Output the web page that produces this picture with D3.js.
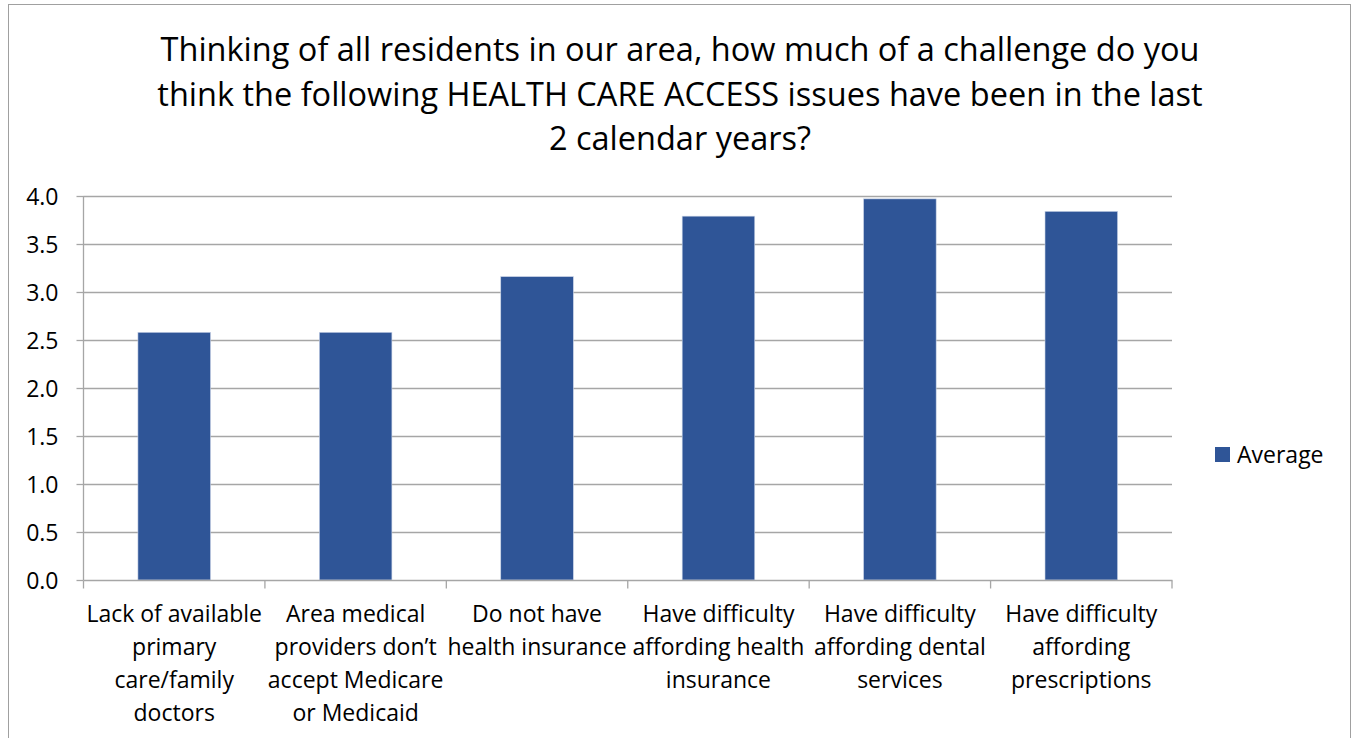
<!DOCTYPE html>
<html><head><meta charset="utf-8">
<script src="https://cdn.jsdelivr.net/npm/d3@7"></script>
<style>
body{margin:0;background:#fff;}
svg text{font-family:"Open Sans", Lato, sans-serif;fill:#000;}
</style></head>
<body>
<svg id="c" width="1353" height="738"></svg>
<script>
const categories = [
  ["Lack of available","primary","care/family","doctors"],
  ["Area medical","providers don\u2019t","accept Medicare","or Medicaid"],
  ["Do not have","health insurance"],
  ["Have difficulty","affording health","insurance"],
  ["Have difficulty","affording dental","services"],
  ["Have difficulty","affording","prescriptions"]
];
const seriesName = "Average";
const values = [2.58, 2.58, 3.16, 3.79, 3.97, 3.84];
const yTicks = [0,0.5,1,1.5,2,2.5,3,3.5,4];
const titleLines = [
  "Thinking of all residents in our area, how much of a challenge do you",
  "think the following HEALTH CARE ACCESS issues have been in the last",
  "2 calendar years?"
];

const svg = d3.select("#c");
// chart border
svg.append("rect").attr("x",8.5).attr("y",4.5).attr("width",1342).attr("height",760)
  .attr("fill","none").attr("stroke","#a0a0a0").attr("stroke-width",1);

const m={left:83.5,right:1172,top:196,bottom:580};
const x=d3.scaleBand().domain(d3.range(categories.length)).range([m.left,m.right]).paddingInner(0.6).paddingOuter(0.3);
const xb=d3.scaleBand().domain(d3.range(categories.length)).range([m.left,m.right]);
const y=d3.scaleLinear().domain([0,4]).range([m.bottom,m.top]);

// gridlines
svg.append("g").selectAll("line").data(yTicks.filter(d=>d>0)).join("line")
  .attr("x1",m.left).attr("x2",m.right).attr("y1",d=>Math.round(y(d))+0.5).attr("y2",d=>Math.round(y(d))+0.5)
  .attr("stroke","#a6a6a6").attr("stroke-width",1.3);

// bars
svg.append("g").selectAll("rect").data(values).join("rect")
  .attr("x",(d,i)=>x(i)).attr("width",x.bandwidth())
  .attr("y",d=>y(d)).attr("height",d=>y(0)-y(d))
  .attr("fill","#2F5597").attr("stroke","#c9d3e6").attr("stroke-width",0.6);

// y axis
const ya=svg.append("g").attr("transform",`translate(${m.left},0)`)
  .call(d3.axisLeft(y).tickValues(yTicks).tickFormat(d3.format(".1f")).tickSize(7).tickPadding(18));
ya.select(".domain").attr("stroke","#a6a6a6").attr("stroke-width",1.3).attr("d",`M0,${m.top}V${m.bottom}`);
ya.selectAll(".tick line").attr("stroke","#a6a6a6").attr("stroke-width",1.3);
ya.selectAll(".tick text").attr("font-size",23).attr("font-family","'Open Sans', sans-serif").attr("fill","#000").attr("dy","0.35em");

// x axis
const xa=svg.append("g").attr("transform",`translate(0,${m.bottom+0.5})`);
xa.append("line").attr("x1",m.left).attr("x2",m.right+0.5).attr("stroke","#a6a6a6").attr("stroke-width",1.3);
xa.selectAll("line.t").data(d3.range(categories.length+1)).join("line").attr("class","t")
  .attr("x1",i=>i<categories.length?xb(i):m.right).attr("x2",i=>i<categories.length?xb(i):m.right)
  .attr("y1",0).attr("y2",8).attr("stroke","#a6a6a6").attr("stroke-width",1.3);
const lab=svg.append("g").selectAll("text").data(categories).join("text")
  .attr("text-anchor","middle").attr("font-size",23)
  .attr("x",(d,i)=>xb(i)+xb.bandwidth()/2).attr("y",622);
lab.selectAll("tspan").data(d=>d).join("tspan")
  .attr("x",function(){return this.parentNode.getAttribute("x");})
  .attr("dy",(d,i)=>i===0?0:33).text(d=>d);

// title
svg.append("text").attr("text-anchor","middle").attr("font-size",32.5)
  .selectAll("tspan").data(titleLines).join("tspan")
  .attr("x",680).attr("y",(d,i)=>61+i*44.5).text(d=>d);

// legend
svg.append("rect").attr("x",1215).attr("y",447).attr("width",15).attr("height",15).attr("fill","#2F5597");
svg.append("text").attr("x",1237).attr("y",463).attr("font-size",23).text(seriesName);
</script>
</body></html>
